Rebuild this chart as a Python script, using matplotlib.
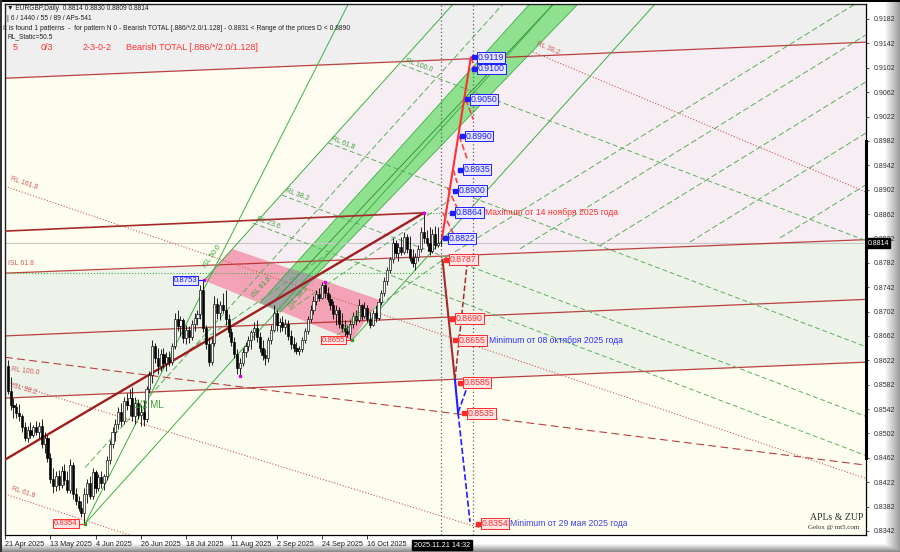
import numpy as np
import matplotlib.pyplot as plt
from matplotlib.patches import Polygon
from matplotlib.transforms import blended_transform_factory

plt.rcParams['font.family'] = ['Liberation Sans', 'DejaVu Sans']

W, H = 900, 552

# EURGBP daily bars, 22 Apr .. 21 Nov 2025 (pips, /10000)
opens = [8612, 8572, 8548, 8545, 8535, 8530, 8512, 8495, 8508, 8500,
         8512, 8505, 8515, 8485, 8495, 8462, 8428, 8415, 8432, 8418,
         8440, 8425, 8410, 8450, 8402, 8392, 8380, 8372, 8402, 8420,
         8400, 8438, 8412, 8430, 8420, 8432, 8458, 8485, 8505, 8518,
         8538, 8522, 8555, 8548, 8560, 8530, 8552, 8532, 8538, 8525,
         8575, 8598, 8645, 8625, 8612, 8632, 8618, 8628, 8620, 8645,
         8690, 8678, 8688, 8658, 8672, 8660, 8682, 8692, 8698, 8738,
         8675, 8648, 8620, 8650, 8715, 8700, 8712, 8705, 8690, 8668,
         8652, 8632, 8610, 8618, 8635, 8645, 8655, 8668, 8675, 8660,
         8642, 8630, 8625, 8655, 8672, 8700, 8680, 8685, 8676, 8682,
         8662, 8648, 8642, 8638, 8640, 8655, 8670, 8690, 8705, 8720,
         8730, 8725, 8745, 8732, 8722, 8712, 8698, 8705, 8682, 8675,
         8670, 8665, 8682, 8695, 8688, 8712, 8695, 8708, 8690, 8680,
         8700, 8692, 8718, 8732, 8752, 8770, 8788, 8815, 8798, 8808,
         8800, 8825, 8805, 8790, 8782, 8792, 8805, 8832, 8822, 8815,
         8802, 8830, 8812, 8814]
highs = [8622, 8595, 8560, 8552, 8550, 8534, 8520, 8515, 8520, 8516,
         8522, 8520, 8525, 8505, 8500, 8470, 8445, 8440, 8442, 8448,
         8452, 8440, 8460, 8455, 8412, 8400, 8392, 8412, 8428, 8432,
         8445, 8442, 8435, 8440, 8436, 8465, 8492, 8512, 8525, 8545,
         8552, 8562, 8568, 8575, 8578, 8562, 8558, 8548, 8555, 8580,
         8605, 8655, 8650, 8642, 8640, 8642, 8635, 8638, 8650, 8700,
         8705, 8695, 8692, 8680, 8678, 8688, 8700, 8705, 8745, 8753,
         8680, 8660, 8658, 8728, 8725, 8720, 8732, 8738, 8698, 8675,
         8660, 8640, 8625, 8642, 8652, 8662, 8672, 8685, 8688, 8668,
         8655, 8640, 8660, 8680, 8712, 8705, 8692, 8695, 8690, 8688,
         8672, 8660, 8652, 8645, 8660, 8675, 8695, 8712, 8728, 8738,
         8740, 8751, 8748, 8742, 8730, 8720, 8712, 8710, 8700, 8688,
         8680, 8688, 8702, 8705, 8722, 8715, 8718, 8712, 8702, 8705,
         8712, 8725, 8738, 8758, 8775, 8792, 8822, 8820, 8815, 8825,
         8832, 8830, 8826, 8805, 8798, 8812, 8840, 8864, 8835, 8840,
         8838, 8842, 8840, 8830]
lows = [8566, 8540, 8528, 8528, 8522, 8505, 8490, 8488, 8494, 8496,
        8500, 8495, 8478, 8470, 8455, 8420, 8405, 8408, 8410, 8412,
        8418, 8405, 8405, 8395, 8385, 8375, 8365, 8354, 8388, 8395,
        8395, 8405, 8408, 8412, 8410, 8425, 8452, 8478, 8490, 8510,
        8515, 8518, 8540, 8530, 8522, 8518, 8525, 8515, 8515, 8520,
        8568, 8585, 8618, 8600, 8604, 8610, 8605, 8612, 8615, 8640,
        8670, 8662, 8650, 8648, 8650, 8655, 8670, 8680, 8690, 8668,
        8640, 8612, 8615, 8645, 8690, 8688, 8700, 8680, 8660, 8645,
        8625, 8600, 8596, 8612, 8628, 8638, 8640, 8655, 8652, 8635,
        8622, 8615, 8620, 8648, 8668, 8670, 8668, 8670, 8665, 8655,
        8640, 8635, 8632, 8630, 8636, 8650, 8665, 8685, 8698, 8712,
        8720, 8722, 8725, 8718, 8705, 8690, 8680, 8675, 8668, 8662,
        8660, 8655, 8675, 8680, 8685, 8688, 8692, 8685, 8675, 8678,
        8685, 8688, 8712, 8728, 8745, 8765, 8782, 8792, 8785, 8795,
        8796, 8798, 8785, 8775, 8770, 8785, 8800, 8815, 8810, 8795,
        8798, 8805, 8808, 8809]
closes = [8572, 8548, 8545, 8535, 8530, 8512, 8495, 8508, 8500, 8512,
          8505, 8515, 8485, 8495, 8462, 8428, 8415, 8432, 8418, 8440,
          8425, 8410, 8450, 8402, 8392, 8380, 8372, 8402, 8420, 8400,
          8438, 8412, 8430, 8420, 8432, 8458, 8485, 8505, 8518, 8538,
          8522, 8555, 8548, 8560, 8530, 8552, 8532, 8538, 8525, 8575,
          8598, 8645, 8625, 8612, 8632, 8618, 8628, 8620, 8645, 8690,
          8678, 8688, 8658, 8672, 8660, 8682, 8692, 8698, 8738, 8675,
          8648, 8620, 8650, 8715, 8700, 8712, 8705, 8690, 8668, 8652,
          8632, 8610, 8618, 8635, 8645, 8655, 8668, 8675, 8660, 8642,
          8630, 8625, 8655, 8672, 8700, 8680, 8685, 8676, 8682, 8662,
          8648, 8642, 8638, 8640, 8655, 8670, 8690, 8705, 8720, 8730,
          8725, 8745, 8732, 8722, 8712, 8698, 8705, 8682, 8675, 8670,
          8665, 8682, 8695, 8688, 8712, 8695, 8708, 8690, 8680, 8700,
          8692, 8718, 8732, 8752, 8770, 8788, 8815, 8798, 8808, 8800,
          8825, 8805, 8790, 8782, 8792, 8805, 8832, 8822, 8815, 8802,
          8830, 8812, 8814, 8814]

date_idx = [0, 16, 32, 48, 64, 80, 96, 112, 128]
date_labels = ['21 Apr 2025', '13 May 2025', '4 Jun 2025', '26 Jun 2025', '18 Jul 2025',
               '11 Aug 2025', '2 Sep 2025', '24 Sep 2025', '16 Oct 2025']
price_ticks = [0.9182, 0.9142, 0.9102, 0.9062, 0.9022, 0.8982, 0.8942, 0.8902,
               0.8862, 0.8822, 0.8782, 0.8742, 0.8702, 0.8662, 0.8622, 0.8582,
               0.8542, 0.8502, 0.8462, 0.8422, 0.8382, 0.8342]

# projected targets of the pattern
up_levels = [0.9119, 0.9100, 0.9050, 0.8990, 0.8935, 0.8900, 0.8864, 0.8822]
up_x = [166.8, 166.8, 164.3, 162.5, 161.8, 160.1, 159.0, 156.5]
dn_levels = [0.8787, 0.8690, 0.8655, 0.8585, 0.8535, 0.8354]
dn_x = [156.9, 159.0, 160.1, 161.8, 163.3, 168.2]

# fork reaction lines (left edge / right edge prices)
rl_left = [0.90848, 0.8765, 0.8662, 0.8560]
rl_right = [0.9144, 0.8820, 0.8722, 0.8619]

# pitchfork anchors: low, high, low
fork_x = [28.3, 70.3, 122.6]
fork_y = [0.8354, 0.8753, 0.8655]
fork_k = 0.000515

XR = 304.24
YLO, YHI = 0.83354, 0.92066

fig = plt.figure(figsize=(W / 100, H / 100), dpi=100)

# bevelled frame of the terminal window
bg = fig.add_axes([0, 0, 1, 1])
img = np.ones((H, W, 3))
img[:, W - 16:, :] = np.linspace(1.0, 0.62, 16)[None, :, None]
img[H - 8:, :, :] = np.minimum(img[H - 8:, :, :], np.linspace(0.95, 0.55, 8)[:, None, None])
img[:2, :, :] = 0.0
img[:, :2, :] = 0.2
bg.imshow(img, extent=[0, 1, 0, 1], aspect='auto', interpolation='nearest')
bg.axis('off')

ax = fig.add_axes([5 / W, 1 - 535 / H, 861 / W, 531 / H])
ax.set_xlim(0, XR)
ax.set_ylim(YLO, YHI)
ax.set_facecolor('#FEFEF0')

# zones
ax.fill_between([0, XR], [rl_left[0], rl_right[0]], YHI, color='#EFEFEF', lw=0, zorder=0)
ax.fill_between([0, XR], [rl_left[1], rl_right[1]], [rl_left[3], rl_right[3]],
                color='#EEF3EA', lw=0, zorder=0)


def cross_tine(j):
    b = (rl_right[j] - rl_left[j]) / XR
    x = (rl_left[j] - fork_y[1] + fork_k * fork_x[1]) / (fork_k - b)
    return x, rl_left[j] + b * x


xa, ya = cross_tine(1)
xb, yb = cross_tine(0)
ax.add_patch(Polygon([(xa, ya), (xb, yb), (XR, rl_right[0]), (XR, rl_right[1])],
                     closed=True, fc='#F6EEF3', ec='none', zorder=0.5))

# pink zone, green band and their overlap
ax.add_patch(Polygon([(70.3, 0.8753), (80.2, 0.8805), (132.5, 0.8721), (122.6, 0.8655)],
                     closed=True, fc='#F4A3B6', ec='none', zorder=1))
ax.add_patch(Polygon([(90.1, 0.8716), (185.4, YHI), (202.5, YHI), (97.2, 0.8701)],
                     closed=True, fc='#8FE08F', ec='none', zorder=1))
ax.add_patch(Polygon([(90.1, 0.8716), (100.7, 0.8773), (110.2, 0.8759), (97.2, 0.8701)],
                     closed=True, fc='#A3A3A3', ec='none', zorder=1.1))
ax.plot([93.6, 193.8], [0.8712, YHI], color='#2E8B2E', lw=0.6, zorder=1.2)
ax.plot([90.1, 185.4], [0.8716, YHI], color='#3CB043', lw=0.6, zorder=1.2)
ax.plot([97.2, 202.5], [0.8701, YHI], color='#3CB043', lw=0.6, zorder=1.2)

# current price line
ax.axhline(0.8814, color='#C8C8C8', lw=0.8, zorder=1.5)

# fork reaction lines
for l, r in zip(rl_left, rl_right):
    ax.plot([0, XR], [l, r], color='#B22222', lw=0.9, alpha=0.85, zorder=2)

# main trend lines
ax.plot([0, 148], [0.8459, 0.8864], color='#A01E1E', lw=1.7, zorder=3)
ax.plot([0, 148], [0.8834, 0.8864], color='#A52A2A', lw=1.2, zorder=3)

# red dotted / dashed reaction lines
ax.plot([1, XR], [0.8906, 0.8428], color='#CD5C5C', lw=0.8, ls=':', zorder=2)
ax.plot([186.6, XR], [0.9128, 0.8898], color='#CD5C5C', lw=0.8, ls=':', zorder=2)
ax.plot([0, XR], [0.8627, 0.8450], color='#B84040', lw=0.8, dashes=(7, 4), zorder=2)
ax.plot([1, 167.8], [0.8586, 0.8347], color='#CD5C5C', lw=0.8, ls=':', zorder=2)
ax.plot([1, 44.2], [0.8401, 0.8335], color='#CD5C5C', lw=0.8, ls=':', zorder=2)

# pitchfork (median + tines)
for fx, fy in zip(fork_x, fork_y):
    ax.plot([fx, fx + (YHI - fy) / fork_k], [fy, YHI], color='#3CB043', lw=0.7, zorder=2)
ax.plot([28.3, 121.3], [0.8354, YHI], color='#3CB043', lw=0.7, zorder=2)
ax.plot([28.3, 28.3 + (YHI - 0.8446) / fork_k], [0.8446, YHI],
        color='#5DAE5D', lw=0.7, dashes=(6, 3), zorder=2)

# green reaction lines from the upper tine
rl_green = [(87.6, 0.8847), (97.9, 0.8893), (114.1, 0.8979), (140.3, 0.9107)]
for gx, gy in rl_green:
    ax.plot([gx, XR], [gy, gy - (XR - gx) * 0.000176], color='#5DAE5D', lw=0.7,
            dashes=(5, 3), zorder=2)

green_dash = [(54.8, 0.8606, 115.9, 0.8803), (100.7, 0.8705, 157.2, 0.8885),
              (114.8, 0.8655, 157.2, 0.8795), (159.0, 0.8800, 300.4, YHI),
              (182.0, 0.8805, XR, 0.9156), (210.2, 0.8810, XR, 0.9079),
              (242.0, 0.8816, XR, 0.8995), (273.9, 0.8823, XR, 0.8910)]
for x0, y0, x1, y1 in green_dash:
    ax.plot([x0, x1], [y0, y1], color='#5DAE5D', lw=0.7, dashes=(6, 3), zorder=2)
ax.plot([1, 150], [0.8765, 0.8765], color='#3CB043', lw=0.8, ls=':', zorder=2)
ax.plot([148, 166], [0.8864, 0.8864], color='#3CB043', lw=0.8, ls=':', zorder=2)

# candles
o = np.array(opens) / 1e4
h = np.array(highs) / 1e4
lo = np.array(lows) / 1e4
c = np.array(closes) / 1e4
idx = np.arange(1, len(c) + 1)
up = c >= o
ax.vlines(idx, lo, h, color='black', lw=0.6, zorder=5)
ax.bar(idx[up], np.maximum(c - o, 0.00004)[up], bottom=o[up], width=0.75,
       facecolor='white', edgecolor='black', lw=0.45, zorder=6)
ax.bar(idx[~up], (o - c)[~up], bottom=c[~up], width=0.75,
       facecolor='black', edgecolor='black', lw=0.45, zorder=6)

# pattern points
ax.plot([70.3, 83, 113, 148], [0.8753, 0.8596, 0.8751, 0.8864], 's', color='#E000E0', ms=2, zorder=7)
ax.plot([28.3, 122.6], [0.8354, 0.8655], 's', color='#30A030', ms=2, zorder=7)

# time separators
for vx in [154.2, 165.5]:
    ax.axvline(vx, color='#606060', lw=0.9, ls=(0, (1, 2)), zorder=4)

# projection
ax.plot([154.4, 164.6], [0.8822, 0.9119], color='#FF3030', lw=1.5, zorder=7)
red_dash = [(164.6, 0.9119, 166.3, 0.9100), (162.8, 0.9050, 165.5, 0.9017),
            (160.5, 0.8990, 163.5, 0.8950), (158.4, 0.8935, 159.8, 0.8913),
            (156.4, 0.8905, 159.8, 0.8872), (154.8, 0.8864, 158.9, 0.8825)]
for x0, y0, x1, y1 in red_dash:
    ax.plot([x0, x1], [y0, y1], color='#FF4040', lw=1.2, ls='--', zorder=7)
ax.plot([154.6, 159.0], [0.8787, 0.8590], color='#A52A2A', lw=1.5, zorder=7)
ax.plot([159.0, 163.5], [0.8590, 0.8790], color='#A52A2A', lw=1.1, ls='--', zorder=7)
ax.plot([159.0, 160.1], [0.8590, 0.8536], color='#2020FF', lw=1.5, zorder=7)
ax.plot([160.1, 164.3], [0.8536, 0.8357], color='#2020FF', lw=1.2, ls='--', zorder=7)
ax.plot([160.1, 163.3], [0.8536, 0.8578], color='#2020FF', lw=1.2, ls='--', zorder=7)


def tag(x, y, s, col, fc, side='left', fs=6.3):
    if side == 'left':
        ax.plot([x - 1.6, x], [y, y], color=col, lw=0.8, zorder=8)
        ax.plot(x - 1.0, y, 's', color=col, ms=2.2, zorder=8)
        ax.text(x + 0.3, y, s, color=col, fontsize=fs, ha='left', va='center', zorder=9,
                bbox=dict(boxstyle='square,pad=0.1', fc=fc, ec=col, lw=0.7))
    else:
        ax.plot([x, x + 2.0], [y, y], color=col, lw=0.8, zorder=8)
        ax.text(x - 0.3, y, s, color=col, fontsize=fs, ha='right', va='center', zorder=9,
                bbox=dict(boxstyle='square,pad=0.1', fc=fc, ec=col, lw=0.7))


for lx, lv in zip(up_x, up_levels):
    tag(lx, lv, f'{lv:.4f}', '#1E1EFF', '#E6E6FF')
for lx, lv in zip(dn_x, dn_levels):
    tag(lx, lv, f'{lv:.4f}', '#FF2A2A', '#FFE6E6')
tag(68.2, 0.8753, '0.8753', '#1E1EFF', '#E6E6FF', side='right', fs=5.6)
tag(120.4, 0.8655, '0.8655', '#FF2A2A', '#FFE6E6', side='right', fs=5.6)
tag(26.0, 0.8354, '0.8354', '#FF2A2A', '#FFE6E6', side='right', fs=5.6)

ax.text(169.6, 0.8864, 'Maximum от 14 ноября 2025 года', color='#FF3030', fontsize=6.2,
        va='center', zorder=9)
ax.text(171.2, 0.8655, 'Minimum от 08 октября 2025 года', color='#3030FF', fontsize=6.2,
        va='center', zorder=9)
ax.text(178.6, 0.8354, 'Minimum от 29 мая 2025 года', color='#4040E0', fontsize=6.2,
        va='center', zorder=9)

# line captions
red_cap = [(1.5, 0.8914, 'RL 161.8', -19), (1.0, 0.8775, 'ISL 61.8', 0),
           (2.0, 0.8602, 'RL 100.0', -7), (2.0, 0.8575, 'ISL 38.2', -16),
           (2.0, 0.8406, 'RL 61.8', -18), (187.5, 0.9136, 'RL 38.2', -23)]
for tx, ty, s, rot in red_cap:
    ax.text(tx, ty, s, color='#CD5C5C', fontsize=5, rotation=rot, rotation_mode='anchor',
            ha='left', va='bottom', zorder=8)
green_cap = [(141.0, 0.9108, 'RL 100.0', -20), (114.8, 0.8981, 'RL 61.8', -22),
             (98.6, 0.8895, 'RL 38.2', -20), (88.3, 0.8849, 'RL 23.6', -20),
             (71.5, 0.8772, 'ISL 50.0', 55), (88.5, 0.8722, 'ISL 61.8', 48),
             (101.5, 0.8705, 'ISL 38.2', 48), (120.5, 0.8665, 'ISL 23.6', 48)]
for tx, ty, s, rot in green_cap:
    ax.text(tx, ty, s, color='#3CA03C', fontsize=5, rotation=rot, rotation_mode='anchor',
            ha='left', va='bottom', zorder=8)
ax.text(45.5, 0.8549, '1/2 ML', color='#3CA03C', fontsize=7, va='center', zorder=8)

# axes, ticks
for side in ['left', 'top']:
    ax.spines[side].set_color('#202020')
    ax.spines[side].set_linewidth(1.0)
for side in ['right', 'bottom']:
    ax.spines[side].set_color('black')
    ax.spines[side].set_linewidth(0.9)
ax.yaxis.tick_right()
ax.set_yticks(price_ticks)
ax.set_yticklabels([f'{p:.4f}' for p in price_ticks])
ax.tick_params(axis='y', labelsize=5, colors='#303030', length=2.5, width=0.6, pad=3)
ax.set_xticks(date_idx)
ax.set_xticklabels(date_labels)
ax.tick_params(axis='x', labelsize=5.2, colors='#202020', length=3, width=0.6, pad=1.5)
for lbl in ax.get_xticklabels():
    lbl.set_ha('left')

tr = blended_transform_factory(ax.transAxes, ax.transData)
ax.plot([1.0, 1.0], [0.8462, 0.8982], color='black', lw=2.2, transform=tr, clip_on=False, zorder=10)
ax.text(1.002, 0.8814, '0.8814', transform=tr, color='white', fontsize=5, va='center', ha='left',
        bbox=dict(boxstyle='square,pad=0.2', fc='black', ec='black'), clip_on=False, zorder=11)
trx = blended_transform_factory(ax.transData, ax.transAxes)
ax.text(144.5, -0.019, '2025.11.21 14:32', transform=trx, color='white', fontsize=5.2,
        va='center', ha='left', bbox=dict(boxstyle='square,pad=0.2', fc='black', ec='black'),
        clip_on=False, zorder=11)


def ftext(x, y, s, **kw):
    fig.text(x / W, 1 - y / H, s, va='center', **kw)


ftext(7, 9, '▼ EURGBP,Daily  0.8814 0.8830 0.8809 0.8814', fontsize=4.8, color='#202020')
ftext(7, 19, '| 6 / 1440 / 55 / 89 / APs-541', fontsize=4.8, color='#202020')
ftext(3, 28, 'It is found 1 patterns  -  for pattern N 0 - Bearish TOTAL [.886/*/2.0/1.128]'
      ' - 0.8831 < Range of the prices D < 0.8890', fontsize=4.9, color='#202020')
ftext(7, 37, 'RL_Static=50.5', fontsize=4.8, color='#202020')
for tx, s in [(13, '5'), (41, '0/3'), (83, '2-3-0-2'), (126, 'Bearish TOTAL [.886/*/2.0/1.128]')]:
    ftext(tx, 47, s, fontsize=6.5, color='#FF3030')
ftext(810, 517, 'APLs & ZUP', fontsize=7, color='#303030', family='Liberation Serif')
ftext(808, 528, 'Gelox @ mt5.com', fontsize=5, color='#303030', family='Liberation Serif')

fig.savefig('out.png', dpi=100)
